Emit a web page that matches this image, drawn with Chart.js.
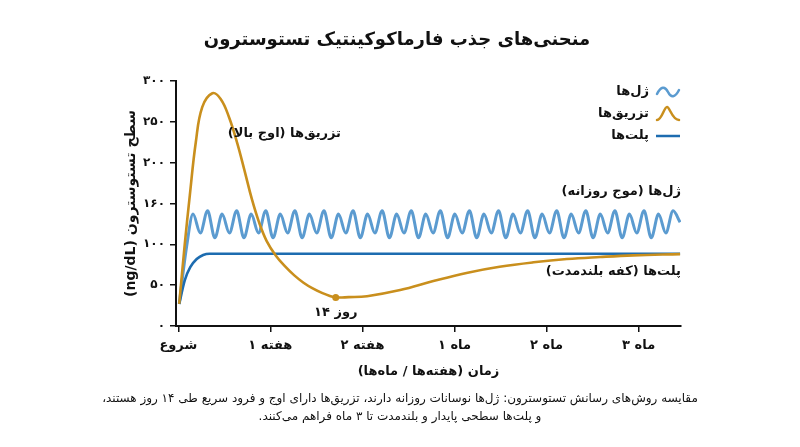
<!DOCTYPE html>
<html lang="fa">
<head>
<meta charset="utf-8">
<title>منحنی‌های جذب فارماکوکینتیک تستوسترون</title>
<style>
  html, body { margin: 0; padding: 0; background: #fff; }
  canvas { display: block; }
</style>
</head>
<body>
<canvas id="pk-canvas" width="800" height="447"></canvas>
<script src="https://cdn.jsdelivr.net/npm/chart.js@4.4.0/dist/chart.umd.min.js"></script>
<script>
// tick labels
const xTickLabels = ["شروع", "۱ هفته", "۲ هفته", "۱ ماه", "۲ ماه", "۳ ماه"];
const yTickLabels = ["۰", "۵۰", "۱۰۰", "۱۶۰", "۲۰۰", "۲۵۰", "۳۰۰"];
const seriesNames = ["ژل‌ها", "تزریق‌ها", "پلت‌ها"];

// gel: daily wave (read peak / trough by peak / trough)
const gelX = [0.01, 0.09,
	0.160, 0.239, 0.318, 0.397, 0.476, 0.555, 0.634, 0.713, 0.792, 0.871,
	0.950, 1.029, 1.108, 1.187, 1.266, 1.345, 1.424, 1.503, 1.582, 1.661,
	1.740, 1.819, 1.898, 1.977, 2.056, 2.135, 2.214, 2.293, 2.372, 2.451,
	2.530, 2.609, 2.688, 2.767, 2.846, 2.925, 3.004, 3.083, 3.162, 3.241,
	3.320, 3.399, 3.478, 3.557, 3.636, 3.715, 3.794, 3.873, 3.952, 4.031,
	4.110, 4.189, 4.268, 4.347, 4.426, 4.505, 4.584, 4.663, 4.742, 4.821,
	4.900, 4.979, 5.058, 5.137, 5.216, 5.295, 5.374, 5.45];
const gelY = [27, 97,
	137, 114, 141, 108,
	137, 114, 141, 108,
	137, 114, 141, 108,
	137, 114, 141, 108,
	137, 114, 141, 108,
	137, 114, 141, 108,
	137, 114, 141, 108,
	137, 114, 141, 108,
	137, 114, 141, 108,
	137, 114, 141, 108,
	137, 114, 141, 108,
	137, 114, 141, 108,
	137, 114, 141, 108,
	137, 114, 141, 108,
	137, 114, 141, 108,
	137, 114, 141, 108,
	137, 114, 141, 127];

// injections: high peak then slow recovery
const injX = [0.01, 0.07, 0.125, 0.19, 0.26, 0.37, 0.46, 0.55, 0.64, 0.72, 0.80, 0.88, 0.96, 1.06,
	1.16, 1.26, 1.36, 1.46, 1.56, 1.64, 1.71, 1.85, 2.05, 2.41, 2.77, 3.13, 3.49, 3.86, 4.22, 4.58, 4.94, 5.45];
const injY = [27, 100, 160, 225, 268, 285, 278, 256, 224, 190, 155, 126, 104, 86,
	73, 62, 53, 46, 40.5, 37, 35, 35.3, 36.5, 44, 55, 65, 72.5, 78, 82, 84.5, 86.5, 88];

// pellets: quick rise to a flat plateau
const patchX = [0.01, 0.07, 0.13, 0.20, 0.27, 0.34, 5.45];
const patchY = [27, 56, 72, 82, 87, 88.5, 88.5];

// 14-day trough marker
const troughX = [1.71];
const troughY = [35];

const GEL = "#5b9bd0";
const INJ = "#c98f1d";
const PATCH = "#1d6cb0";
const INK = "#111111";
const FONT = "'DejaVu Sans', sans-serif";

const toPoints = (xs, ys) => xs.map((x, i) => ({ x: x, y: ys[i] }));

Chart.defaults.font.family = FONT;
Chart.defaults.color = INK;

const textPlugin = {
	id: "pkText",
	afterDraw(chart) {
		const c = chart.ctx;
		const xs = chart.scales.x;
		const ys = chart.scales.y;
		c.save();
		c.direction = "rtl";
		c.fillStyle = INK;
		c.textBaseline = "middle";

		// title
		c.font = "bold 18px " + FONT;
		c.textAlign = "center";
		c.fillText("منحنی‌های جذب فارماکوکینتیک تستوسترون", 397, 40);

		// axis titles
		c.font = "bold 13px " + FONT;
		c.fillText("زمان (هفته‌ها / ماه‌ها)", (xs.left + xs.right) / 2, 372);
		c.save();
		c.translate(131, (ys.top + ys.bottom) / 2);
		c.rotate(-Math.PI / 2);
		c.font = "bold 14px " + FONT;
		c.fillText("سطح تستوسترون (ng/dL)", 0, 0);
		c.restore();

		// caption
		c.font = "12px " + FONT;
		c.fillText("مقایسه روش‌های رسانش تستوسترون: ژل‌ها نوسانات روزانه دارند، تزریق‌ها دارای اوج و فرود سریع طی ۱۴ روز هستند،", 400, 399);
		c.fillText("و پلت‌ها سطحی پایدار و بلندمدت تا ۳ ماه فراهم می‌کنند.", 400, 417);

		// annotations
		c.font = "bold 13px " + FONT;
		c.textAlign = "right";
		c.fillText("تزریق‌ها (اوج بالا)", 341, 134);
		c.fillText("ژل‌ها (موج روزانه)", 681, 192);
		c.fillText("پلت‌ها (کفه بلندمدت)", 681, 272);
		c.textAlign = "center";
		c.direction = "ltr";
		c.fillText("۱۴ روز", xs.getPixelForValue(troughX[0]), 313);
		c.direction = "rtl";

		// legend
		const rows = [92, 114, 136];
		c.textAlign = "right";
		c.font = "bold 13px " + FONT;
		seriesNames.forEach((name, i) => c.fillText(name, 649, rows[i]));

		c.lineCap = "round";
		c.lineJoin = "round";
		// gel icon: small wave
		c.strokeStyle = GEL;
		c.lineWidth = 2.5;
		c.beginPath();
		c.moveTo(657, rows[0] + 2);
		c.bezierCurveTo(661, rows[0] - 6, 665, rows[0] - 6, 668, rows[0]);
		c.bezierCurveTo(671, rows[0] + 6, 675, rows[0] + 6, 679, rows[0] - 2);
		c.stroke();
		// injection icon: peak
		c.strokeStyle = INJ;
		c.beginPath();
		c.moveTo(657, rows[1] + 6);
		c.bezierCurveTo(662, rows[1] + 6, 664, rows[1] - 7, 667, rows[1] - 7);
		c.bezierCurveTo(670, rows[1] - 7, 672, rows[1] + 6, 679, rows[1] + 6);
		c.stroke();
		// pellet icon: flat line
		c.strokeStyle = PATCH;
		c.lineCap = "butt";
		c.beginPath();
		c.moveTo(656, rows[2]);
		c.lineTo(680, rows[2]);
		c.stroke();

		c.restore();
	},
};

const pkChart = new Chart(document.getElementById("pk-canvas").getContext("2d"), {
	type: "line",
	data: {
		datasets: [
			{
				label: "marker",
				data: toPoints(troughX, troughY),
				showLine: false,
				pointRadius: 3.5,
				pointBackgroundColor: INJ,
				pointBorderWidth: 0,
			},
			{
				label: seriesNames[1],
				data: toPoints(injX, injY),
				borderColor: INJ,
				borderWidth: 2.6,
				pointRadius: 0,
				tension: 0.4,
			},
			{
				label: seriesNames[2],
				data: toPoints(patchX, patchY),
				borderColor: PATCH,
				borderWidth: 2.6,
				pointRadius: 0,
				cubicInterpolationMode: "monotone",
			},
			{
				label: seriesNames[0],
				data: toPoints(gelX, gelY),
				borderColor: GEL,
				borderWidth: 3,
				pointRadius: 0,
				cubicInterpolationMode: "monotone",
			},
		],
	},
	options: {
		responsive: false,
		animation: false,
		layout: {
			padding: { top: 81, right: 119, left: 0, bottom: 0 },
		},
		plugins: {
			legend: { display: false },
			tooltip: { enabled: false },
		},
		scales: {
			x: {
				type: "linear",
				min: -0.025,
				max: 5.46,
				afterBuildTicks: (s) => { s.ticks = xTickLabels.map((_, i) => ({ value: i })); },
				afterFit: (s) => { s.height = 121; },
				ticks: {
					callback: (v) => xTickLabels[v] ?? "",
					font: { size: 13, weight: "bold" },
					color: INK,
					padding: 6,
					maxRotation: 0,
				},
				grid: { drawOnChartArea: false, drawTicks: true, tickLength: 6, color: INK, lineWidth: 1.5 },
				border: { display: true, color: INK, width: 2 },
			},
			y: {
				min: 0,
				max: 300,
				afterBuildTicks: (s) => { s.ticks = yTickLabels.map((_, i) => ({ value: i * 50 })); },
				afterFit: (s) => { s.width = 176; },
				ticks: {
					callback: (v) => yTickLabels[v / 50] ?? "",
					font: { size: 12, weight: "bold" },
					color: INK,
					padding: 5,
				},
				grid: { drawOnChartArea: false, drawTicks: true, tickLength: 6, color: INK, lineWidth: 1.5 },
				border: { display: true, color: INK, width: 2 },
			},
		},
	},
	plugins: [textPlugin],
});
</script>
</body>
</html>
